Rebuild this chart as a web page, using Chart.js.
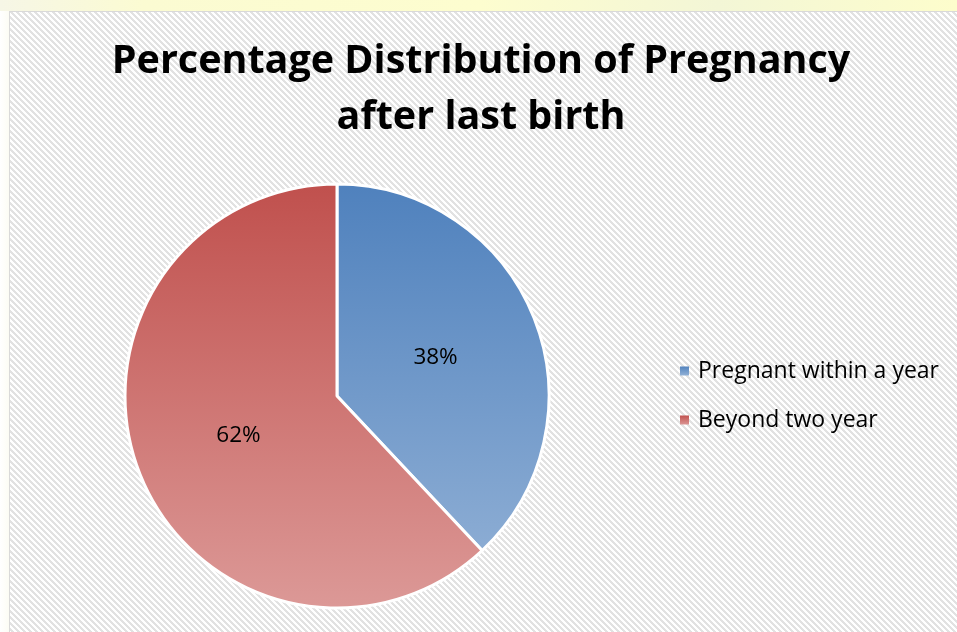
<!DOCTYPE html>
<html>
<head>
<meta charset="utf-8">
<script src="https://cdn.jsdelivr.net/npm/chart.js@4/dist/chart.umd.min.js"></script>
<style>
  html, body { margin: 0; padding: 0; }
  body { width: 957px; height: 632px; overflow: hidden; position: relative;
         background: linear-gradient(90deg, #ffffff 0px, #fcfcf4 9px); }
  #topstrip { position: absolute; left: 0; top: 0; width: 957px; height: 11px;
         background: linear-gradient(90deg, #f6f6e6 0%, #fbfbd2 15%, #fdfdcf 50%, #f3f6d6 75%, #fdfdcc 100%); }
  #box { position: absolute; left: 9px; top: 11px; width: 960px; height: 630px;
         border: 1px solid #d9d9d9; box-sizing: border-box;
         background-color: #ffffff; }
  #c { position: absolute; left: 0; top: 0; }
</style>
</head>
<body>
<div id="topstrip"></div>
<div id="box"></div>
<canvas id="c" width="957" height="632"></canvas>
<script>
const titleLines = ["Percentage Distribution of Pregnancy", "after last birth"];
const categories = ["Pregnant within a year", "Beyond two year"];
const values = [38, 62];
const valueLabels = ["38%", "62%"];
const topColors = ["#4f81bd", "#c0504d"];
const bottomColors = ["#95b3d7", "#dc9997"];

// hatched background tile
(function () {
  const t = document.createElement('canvas');
  t.width = 6; t.height = 6;
  const tc = t.getContext('2d');
  tc.fillStyle = '#ffffff'; tc.fillRect(0, 0, 6, 6);
  tc.fillStyle = '#e2e2e2';
  for (let y = 0; y < 6; y++) for (let x = 0; x < 6; x++) {
    if ((((x - y) % 6) + 6) % 6 < 3) tc.fillRect(x, y, 1, 1);
  }
  document.getElementById('box').style.backgroundImage = 'url(' + t.toDataURL() + ')';
})();

function gradFor(ctx) {
  const chart = ctx.chart;
  const area = chart.chartArea;
  if (!area) return topColors[ctx.dataIndex];
  const g = chart.ctx.createLinearGradient(0, area.top, 0, area.bottom);
  g.addColorStop(0, topColors[ctx.dataIndex]);
  g.addColorStop(1, bottomColors[ctx.dataIndex]);
  return g;
}

const overlay = {
  id: 'overlay',
  afterDraw(chart) {
    const c = chart.ctx;
    c.save();
    c.fillStyle = '#000';
    c.textAlign = 'center';
    c.textBaseline = 'middle';
    c.font = 'bold 39.5px "Open Sans"';
    c.fillText(titleLines[0], 481, 62);
    c.fillText(titleLines[1], 481, 118);
    const meta = chart.getDatasetMeta(0);
    c.font = '22.5px "Open Sans"';
    meta.data.forEach((arc, i) => {
      const p = arc.getCenterPoint();
      c.fillText(valueLabels[i], p.x, p.y + 1);
    });
    c.textAlign = 'left';
    c.font = '23px "Open Sans"';
    categories.forEach((name, i) => {
      const y = 371 + i * 49;
      const g = c.createLinearGradient(0, y - 5, 0, y + 5);
      g.addColorStop(0, topColors[i]);
      g.addColorStop(1, bottomColors[i]);
      c.fillStyle = g;
      c.fillRect(680, y - 4.5, 9, 9);
      c.fillStyle = '#000';
      c.fillText(name, 698, y);
    });
    c.restore();
  }
};

new Chart(document.getElementById('c'), {
  type: 'pie',
  data: {
    labels: categories,
    datasets: [{
      data: values,
      backgroundColor: gradFor,
      borderColor: '#ffffff',
      borderWidth: 3
    }]
  },
  options: {
    responsive: false,
    animation: false,
    layout: { padding: { left: 123.5, right: 406.5, top: 182.5, bottom: 22.5 } },
    plugins: {
      legend: { display: false },
      title: { display: false },
      tooltip: { enabled: false }
    }
  },
  plugins: [overlay]
});
</script>
</body>
</html>
